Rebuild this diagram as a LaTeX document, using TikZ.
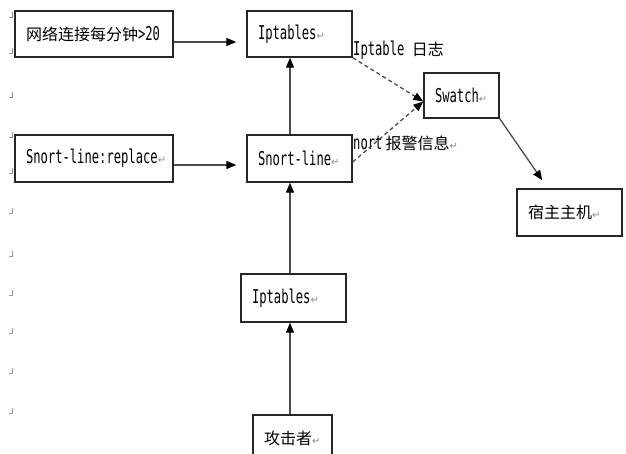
\documentclass[tikz,border=0pt]{standalone}
\usepackage{fontspec}
\setmainfont{DejaVu Sans Mono}[FakeStretch=0.64]
\newfontfamily\zhfont{Noto Sans CJK SC}
\newfontfamily\symfont{DejaVu Sans}
\usetikzlibrary{arrows.meta,calc}
\newcommand\zh[1]{{\zhfont\fontsize{16pt}{18pt}\selectfont #1}}
\newcommand\ret{{\symfont\fontsize{10pt}{10pt}\selectfont\textcolor{black!45}{↵}}}
\newcommand\leftbox[2]{\makebox[#1][l]{#2}}
\begin{document}
\begin{tikzpicture}[x=1pt,y=-1pt,
  box/.style={draw=black!85,line width=1.4pt,rectangle,inner xsep=11pt,inner ysep=0pt,
    font=\fontsize{19pt}{21pt}\selectfont,anchor=center},
  arr/.style={draw=black!70,line width=1.3pt,-{Triangle[length=10pt,width=8pt,color=black]}},
  dsh/.style={arr,dash pattern=on 4pt off 3pt},
  lbl/.style={font=\fontsize{19pt}{21pt}\selectfont,inner sep=0pt,anchor=west},
  pm/.style={draw=black!40,line width=0.6pt}]
\useasboundingbox (0,0) rectangle (626,453);
\clip (0,0) rectangle (626,453);
\fill[white] (0,0) rectangle (626,453);

% paragraph marks at the left margin
\foreach \yy in {17,53,97,137,173,213,256,295,333,373,413}
  \draw[pm] (12,\yy-5) -- (12,\yy) -- (9,\yy);

% boxes
\node[box,minimum width=158pt,minimum height=46pt] (b1) at (94,34) {\leftbox{136pt}{\zh{网络连接每分钟}>20}};
\node[box,minimum width=105pt,minimum height=46pt] (b2) at (299.5,34) {\leftbox{83pt}{Iptables\ret}};
\node[box,minimum width=158pt,minimum height=47pt] (b3) at (94,158.5) {\leftbox{136pt}{Snort-line:replace\ret}};
\node[box,minimum width=105pt,minimum height=47pt] (b4) at (299.5,158.5) {\leftbox{83pt}{Snort-line\ret}};
\node[box,minimum width=75pt,minimum height=45pt] (sw) at (461.5,95.5) {\leftbox{53pt}{Swatch\ret}};
\node[box,minimum width=105pt,minimum height=47pt] (host) at (569.5,212.5) {\leftbox{83pt}{\zh{宿主主机}\ret}};
\node[box,minimum width=105pt,minimum height=48pt] (ip2) at (293.5,298) {\leftbox{83pt}{Iptables\ret}};
\node[box,minimum width=79pt,minimum height=46pt] (atk) at (292.5,438) {\leftbox{57pt}{\zh{攻击者}\ret}};

% labels
\node[lbl] (l1) at (353,50) {Iptable \zh{日志}};
\node[lbl] (l2) at (353,143) {nort\,\zh{报警信息}\ret};

% connectors
\coordinate (vx) at (290,0);
\draw[arr] ($(b1.east)+(0,8)$) -- ($(b2.west)+(-10,8)$);
\draw[arr] ($(b3.east)+(0,6.5)$) -- ($(b4.west)+(-10,6.5)$);
\draw[arr] (b4.north -| vx) -- (b2.south -| vx);
\draw[arr] (ip2.north -| vx) -- (b4.south -| vx);
\draw[arr] (atk.north -| vx) -- (ip2.south -| vx);
\coordinate (swin) at ($(sw.west)+(0,6)$);
\draw[dsh] (b2.south east) -- (swin);
\draw[dsh] ($(b4.east)+(0,3.5)$) -- (swin);
\draw[arr] (sw.south east) -- ($(host.north west)+(26,-8)$);
\end{tikzpicture}
\end{document}
